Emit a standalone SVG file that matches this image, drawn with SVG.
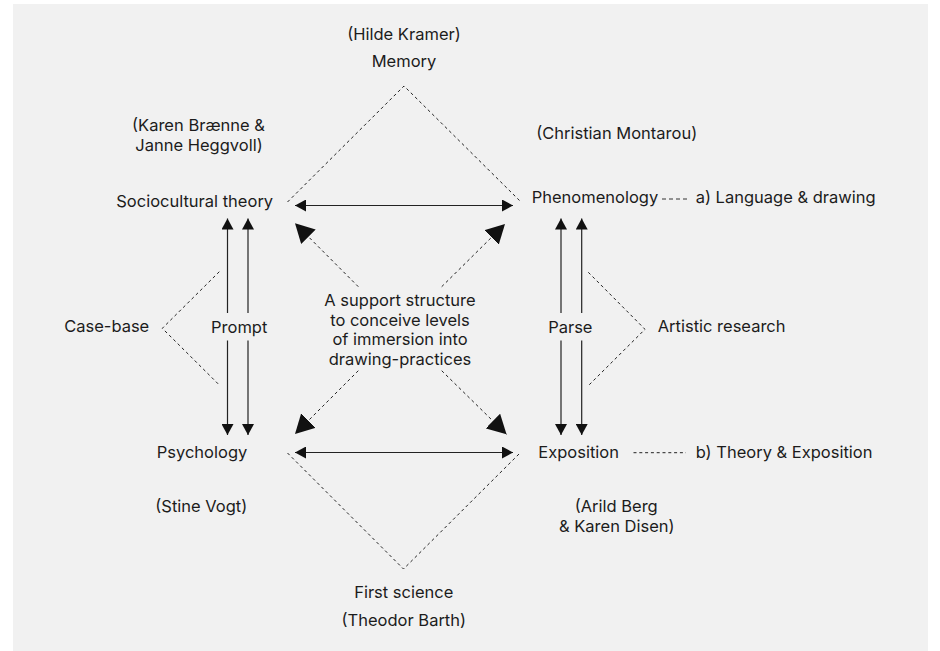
<svg xmlns="http://www.w3.org/2000/svg" width="940" height="651" viewBox="0 0 940 651">
<style>
text{font-family:Inter,"Liberation Sans",sans-serif;font-size:16.5px;fill:#1c1c1c}
.m{text-anchor:middle}
.s{text-anchor:start}
.solid{stroke:#222;stroke-width:1.2;fill:none}
.dot{stroke:#222;stroke-width:1;fill:none;stroke-dasharray:3 3}
.dash{stroke:#333;stroke-width:1;fill:none;stroke-dasharray:4 3}
</style>
<defs>
<marker id="ah" markerUnits="userSpaceOnUse" markerWidth="12" markerHeight="12" refX="11" refY="6" orient="auto-start-reverse">
<path d="M0,0 L11,6 L0,12 z" fill="#111"/>
</marker>
<marker id="big" markerUnits="userSpaceOnUse" markerWidth="20" markerHeight="21" refX="19" refY="10.25" orient="auto">
<path d="M0,0 L19,10.25 L0,20.5 z" fill="#111"/>
</marker>
</defs>
<rect x="13" y="4" width="915" height="647" fill="#f1f1f1"/>
<g id="connectors">
<polyline class="dot" points="287.5,202 404,86 521,202"/>
<polyline class="dot" points="287.5,453 403.5,569 520,453"/>
<polyline class="dot" points="219.3,271.7 162.3,328.3 219.3,385"/>
<polyline class="dot" points="588.3,272.3 645,329.3 588.3,385.7"/>
<line class="solid" x1="295" y1="205.5" x2="513" y2="205.5" marker-start="url(#ah)" marker-end="url(#ah)"/>
<line class="solid" x1="295" y1="452.5" x2="513" y2="452.5" marker-start="url(#ah)" marker-end="url(#ah)"/>
<line class="solid" x1="227.5" y1="313" x2="227.5" y2="218.5" marker-end="url(#ah)"/>
<line class="solid" x1="248" y1="313" x2="248" y2="218.5" marker-end="url(#ah)"/>
<line class="solid" x1="227.5" y1="340.5" x2="227.5" y2="435" marker-end="url(#ah)"/>
<line class="solid" x1="248" y1="340.5" x2="248" y2="435" marker-end="url(#ah)"/>
<line class="solid" x1="561" y1="313" x2="561" y2="218.5" marker-end="url(#ah)"/>
<line class="solid" x1="581.7" y1="313" x2="581.7" y2="218.5" marker-end="url(#ah)"/>
<line class="solid" x1="561" y1="340.5" x2="561" y2="435" marker-end="url(#ah)"/>
<line class="solid" x1="581.7" y1="340.5" x2="581.7" y2="435" marker-end="url(#ah)"/>
<line class="dot" x1="358.3" y1="286.7" x2="295" y2="223.3" marker-end="url(#big)"/>
<line class="dot" x1="441.7" y1="286.7" x2="505" y2="224" marker-end="url(#big)"/>
<line class="dot" x1="358.3" y1="370.7" x2="295" y2="434" marker-end="url(#big)"/>
<line class="dot" x1="441.7" y1="370.7" x2="506.5" y2="434.3" marker-end="url(#big)"/>
<line class="dash" x1="662" y1="199" x2="687" y2="199"/>
<line class="dot" x1="633.5" y1="452.7" x2="686" y2="452.7" style="stroke-dasharray:3 2.8"/>
</g>
<g id="memory">
<text class="m" x="404" y="40">(Hilde Kramer)</text>
<text class="m" x="404" y="67">Memory</text>
</g>
<g id="sociocultural">
<text class="m" x="198.5" y="131">(Karen Brænne &amp;</text>
<text class="m" x="199" y="151">Janne Heggvoll)</text>
<text class="m" x="194.7" y="207">Sociocultural theory</text>
</g>
<g id="phenomenology">
<text class="m" x="616.7" y="139">(Christian Montarou)</text>
<text class="s" x="531.7" y="203">Phenomenology</text>
</g>
<g id="language-drawing">
<text class="s" x="695.7" y="203">a) Language &amp; drawing</text>
</g>
<g id="case-base">
<text class="m" x="106.7" y="332">Case-base</text>
</g>
<g id="prompt">
<text class="m" x="239.2" y="333">Prompt</text>
</g>
<g id="support-structure">
<text class="m" x="400" y="306">A support structure</text>
<text class="m" x="400" y="325.7">to conceive levels</text>
<text class="m" x="400" y="345.3">of immersion into</text>
<text class="m" x="400" y="365">drawing-practices</text>
</g>
<g id="parse">
<text class="m" x="570.3" y="332.7">Parse</text>
</g>
<g id="artistic-research">
<text class="s" x="657.7" y="332">Artistic research</text>
</g>
<g id="psychology">
<text class="m" x="202" y="457.5">Psychology</text>
<text class="m" x="201.3" y="512">(Stine Vogt)</text>
</g>
<g id="exposition">
<text class="s" x="538.3" y="458">Exposition</text>
<text class="m" x="616.2" y="512">(Arild Berg</text>
<text class="m" x="616.8" y="531.5">&amp; Karen Disen)</text>
</g>
<g id="theory-exposition">
<text class="s" x="695.7" y="458">b) Theory &amp; Exposition</text>
</g>
<g id="first-science">
<text class="m" x="403.8" y="598">First science</text>
<text class="m" x="403.8" y="626">(Theodor Barth)</text>
</g>
</svg>
